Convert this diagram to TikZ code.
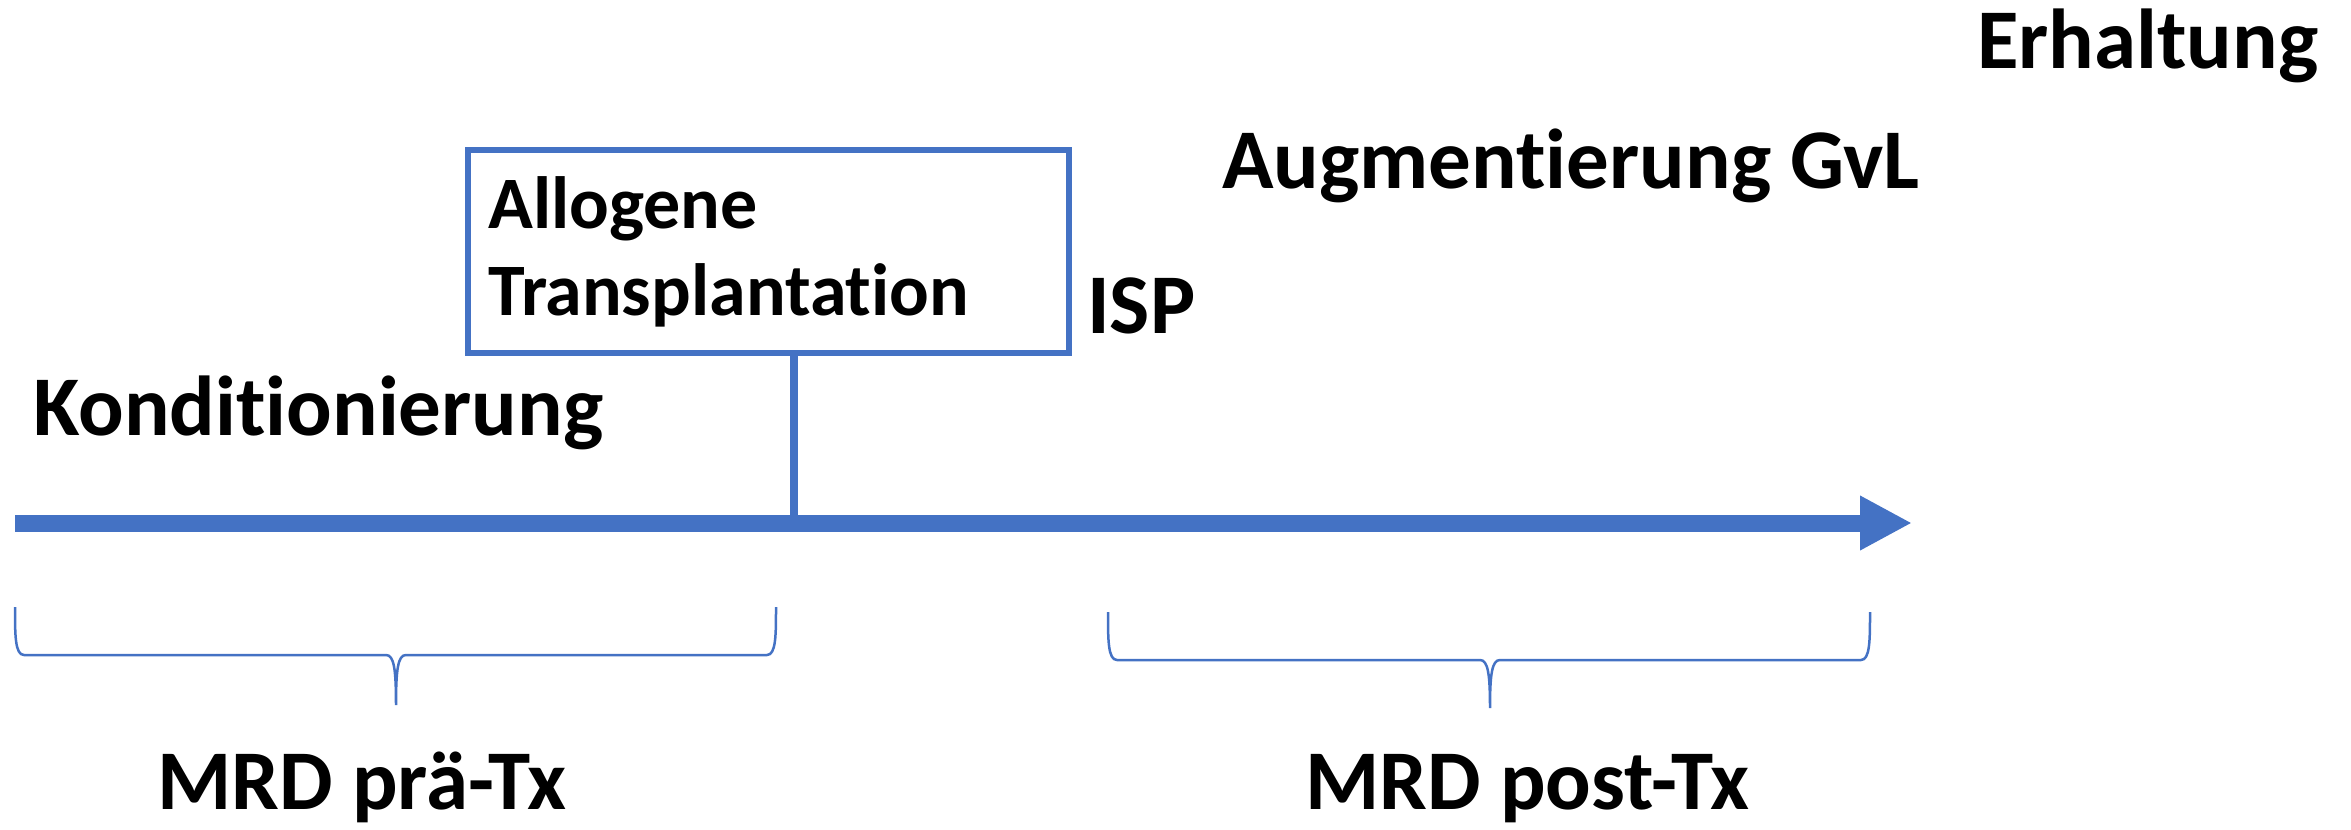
\documentclass[tikz,border=0pt]{standalone}
\usepackage{fontspec}
\setmainfont{Carlito}[Ligatures=NoCommon]
\usetikzlibrary{arrows.meta}
\definecolor{office}{HTML}{4472C4}
\tikzset{
  lbl/.style={font=\fontsize{85}{95}\selectfont\bfseries, inner sep=0pt, anchor=base west},
  boxlbl/.style={lbl, font=\fontsize{74}{87}\selectfont\bfseries},
  framebox/.style={draw=office, line width=6pt, minimum width=601pt, minimum height=203pt, inner sep=0pt, anchor=north west},
  brace/.style={draw=office, line width=2.5pt},
}
\newcommand{\hbrace}[6]{% x0, x1, xm, ytop, yh, ytip
  \draw[brace] (#1,#4) .. controls (#1,#5-20) and (#1,#5) .. (#1+9,#5)
    -- (#3-10,#5) .. controls (#3-2,#5) and (#3,#5+14) .. (#3,#6)
    .. controls (#3,#5+14) and (#3+2,#5) .. (#3+10,#5)
    -- (#2-9,#5) .. controls (#2,#5) and (#2,#5-20) .. (#2,#4);
}
\begin{document}
\begin{tikzpicture}[x=1pt, y=-1pt]
  \useasboundingbox (0,0) rectangle (2351,830);

  % time axis
  \coordinate (start) at (15,523);
  \coordinate (finish) at (1912,523);
  \coordinate (tx) at (794,523);
  \draw[office, line width=17pt, -{Triangle[length=52pt, width=51pt]}] (start) -- (finish);

  % transplantation marker
  \node[framebox] (box) at (465,147) {};
  \draw[office, line width=8pt] (tx) -- (tx |- box.south);
  \node[boxlbl] (allo) at (488,228) {Allogene};
  \node[boxlbl] (trans) at (488,315) {Transplantation};

  % phase labels
  \node[lbl] (kond) at (33,435) {Konditionierung};
  \node[lbl] (isp) at (1087,333) {ISP};
  \node[lbl] (aug) at (1222,188) {Augmentierung GvL};
  \node[lbl] (erh) at (1977,68) {Erhaltung};

  % MRD intervals
  \hbrace{15}{776}{396}{607}{655}{705}
  \hbrace{1108}{1870}{1490}{612}{660}{708}
  \node[lbl] (mrdpre) at (157,809) {MRD prä-Tx};
  \node[lbl] (mrdpost) at (1305,809) {MRD post-Tx};
\end{tikzpicture}
\end{document}
